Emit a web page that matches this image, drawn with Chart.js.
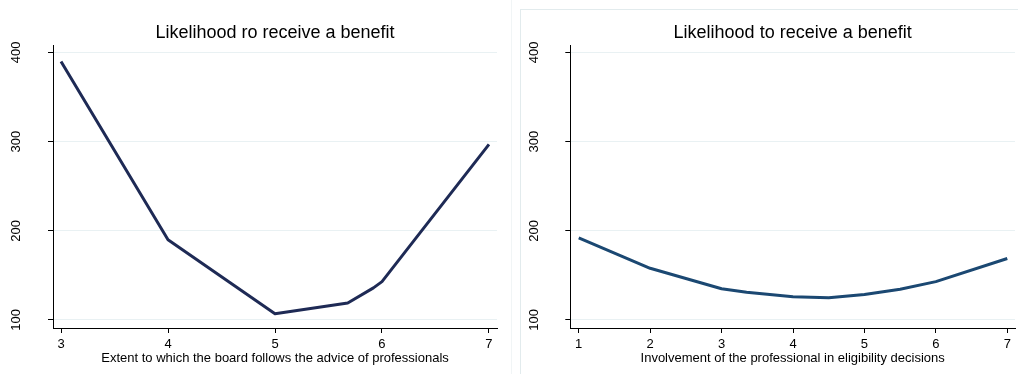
<!DOCTYPE html>
<html>
<head>
<meta charset="utf-8">
<script src="https://cdn.jsdelivr.net/npm/chart.js@4.4.1/dist/chart.umd.min.js"></script>
<style>
  html, body { margin: 0; padding: 0; background: #ffffff; }
  #wrap { position: relative; width: 1018px; height: 374px; overflow: hidden; background: #ffffff; }
  #sep { position: absolute; left: 511px; top: 0; width: 1px; height: 374px; background: #f1f5f6; }
  #frame { position: absolute; left: 520px; top: 9px; width: 600px; height: 420px; border: 1px solid #e2ebed; box-sizing: border-box; }
  canvas { position: absolute; top: 0; }
  #left { left: 0; }
  #right { left: 508px; }
</style>
</head>
<body>
<div id="wrap">
  <div id="sep"></div>
  <div id="frame"></div>
  <canvas id="left" width="508" height="374"></canvas>
  <canvas id="right" width="510" height="374"></canvas>
</div>
<script>
// Board follows the advice of professionals (3..7) vs. predicted likelihood
const boardX = [3, 4, 5, 5.68, 5.92, 6, 7];
const boardY = [390, 190, 107, 119, 136, 143, 297];
const boardTicks = [3, 4, 5, 6, 7];

// Involvement of the professional in eligibility decisions (1..7)
const involveX = [1, 2, 3, 3.35, 4, 4.5, 5, 5.5, 6, 7];
const involveY = [192, 158, 135, 131, 126, 124.8, 128.5, 134.5, 143, 169];
const involveTicks = [1, 2, 3, 4, 5, 6, 7];

const yTicks = [100, 200, 300, 400];

const FONT = "'Liberation Sans', Arial, Helvetica, sans-serif";

function makeChart(id, xs, ys, xTicks, xMin, xMax, color, title, xTitle, yAxisWidth, padRight) {
  const points = xs.map((x, i) => ({ x: x, y: ys[i] }));
  return new Chart(document.getElementById(id), {
    type: 'line',
    data: {
      datasets: [{
        data: points,
        borderColor: color,
        borderWidth: 3,
        pointRadius: 0,
        tension: 0,
        fill: false,
        borderJoinStyle: 'round'
      }]
    },
    options: {
      responsive: false,
      animation: false,
      events: [],
      layout: { padding: { left: 0, right: padRight, top: 0, bottom: 0 } },
      plugins: {
        legend: { display: false },
        tooltip: { enabled: false },
        title: {
          display: true,
          text: title,
          fullSize: false,
          color: '#000000',
          font: { family: FONT, size: 18, weight: 'normal' },
          padding: { top: 22.5, bottom: 0.9 }
        }
      },
      scales: {
        x: {
          type: 'linear',
          min: xMin,
          max: xMax,
          afterBuildTicks: (s) => { s.ticks = xTicks.map(v => ({ value: v })); },
          afterFit: (s) => { s.height = 46; },
          border: { display: true, color: '#000000', width: 1 },
          grid: { drawOnChartArea: false, drawTicks: true, tickLength: 5, tickColor: '#000000', tickWidth: 1 },
          ticks: {
            color: '#000000',
            padding: 3.5,
            maxRotation: 0,
            font: { family: FONT, size: 13 },
            callback: (v) => String(v)
          },
          title: {
            display: true,
            text: xTitle,
            color: '#000000',
            font: { family: FONT, size: 13 },
            padding: { top: 0, bottom: 8 }
          }
        },
        y: {
          type: 'linear',
          min: 91,
          max: 408.4,
          afterBuildTicks: (s) => { s.ticks = yTicks.map(v => ({ value: v })); },
          afterFit: (s) => { s.width = yAxisWidth; },
          border: { display: true, color: '#000000', width: 1 },
          grid: { drawOnChartArea: true, color: '#e9f1f3', lineWidth: 1, drawTicks: true, tickLength: 5, tickColor: '#000000', tickWidth: 1 },
          ticks: {
            color: '#000000',
            minRotation: 90,
            maxRotation: 90,
            crossAlign: 'center',
            padding: 20.5,
            font: { family: FONT, size: 13 },
            callback: (v) => String(v)
          }
        }
      }
    }
  });
}

makeChart('left', boardX, boardY, boardTicks, 2.925, 7.075, '#1e2a55',
  'Likelihood ro receive a benefit',
  'Extent to which the board follows the advice of professionals', 53, 11);

makeChart('right', involveX, involveY, involveTicks, 0.882, 7.108, '#1b4872',
  'Likelihood to receive a benefit',
  'Involvement of the professional in eligibility decisions', 62.3, 3);
</script>
</body>
</html>
